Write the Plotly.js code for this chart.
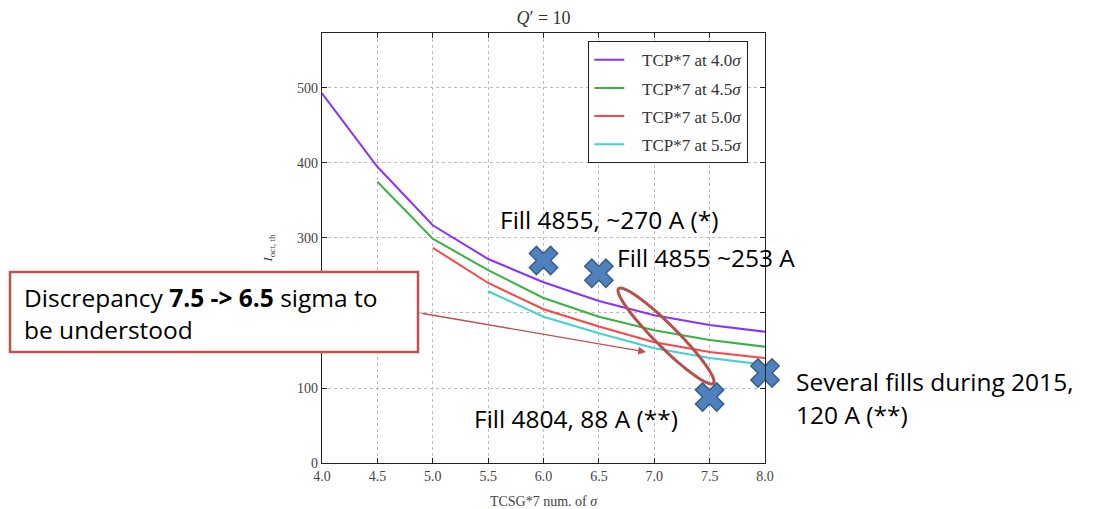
<!DOCTYPE html>
<html>
<head>
<meta charset="utf-8">
<script src="https://cdn.plot.ly/plotly-3.0.1.min.js"></script>
<style>
  html, body { margin: 0; padding: 0; background: #fff; }
  #chart { width: 1096px; height: 509px; }
</style>
</head>
<body>
<div id="chart"></div>
<script>
// TCSG*7 opening (num. of sigma) on the x axis
const tcsgSigma = [4.0, 4.5, 5.0, 5.5, 6.0, 6.5, 7.0, 7.5, 8.0];

// Octupole threshold current for each TCP*7 setting
const tcp40 = [493, 395, 317, 272, 241, 216, 197, 184, 175];
const tcp45 = [null, 375, 299, 257, 220, 195, 177, 164, 155];
const tcp50 = [null, null, 287, 240, 205, 182, 161, 148, 140];
const tcp55 = [null, null, null, 229, 195, 173, 153, 140, 131];

const seriesNames = ['TCP*7 at 4.0<i>σ</i>', 'TCP*7 at 4.5<i>σ</i>', 'TCP*7 at 5.0<i>σ</i>', 'TCP*7 at 5.5<i>σ</i>'];
const seriesColors = ['#8533ff', '#3cb043', '#ff4444', '#3fd3d3'];

// Measured fills
const fillSigma = [6.0, 6.5, 7.5, 8.0];
const fillCurrent = [270, 253, 88, 120];

const xTicks = [4.0, 4.5, 5.0, 5.5, 6.0, 6.5, 7.0, 7.5, 8.0];
const yTicks = [0, 100, 200, 300, 400, 500];

// Plot geometry (pixels)
const W = 1096, H = 509;
const M = { l: 322, r: 331, t: 33, b: 46 };
const plotW = W - M.l - M.r, plotH = H - M.t - M.b;
const xRange = [4, 8], yRange = [0, 573.3];
const pxX = px => (px - M.l) / plotW;           // pixel -> paper x
const pxY = py => (H - M.b - py) / plotH;       // pixel -> paper y
const unitsPerPxX = (xRange[1] - xRange[0]) / plotW;
const unitsPerPxY = (yRange[1] - yRange[0]) / plotH;

const serif = 'Liberation Serif, Times New Roman, serif';
const sans = 'Open Sans, Lato, sans-serif';

const curves = [tcp40, tcp45, tcp50, tcp55].map((ys, i) => ({
  type: 'scatter', mode: 'lines',
  x: tcsgSigma, y: ys, name: '&nbsp;&nbsp;&nbsp;' + seriesNames[i],
  legendgroup: 'g' + i,
  line: { color: seriesColors[i], width: 2 },
  connectgaps: false
}));

const fills = {
  type: 'scatter', mode: 'markers',
  x: fillSigma, y: fillCurrent, showlegend: false,
  cliponaxis: false, hoverinfo: 'x+y',
  marker: { symbol: 'x', size: 25, color: '#4f81bd', line: { color: '#385d8a', width: 1.5 } }
};

// Rotated ellipse around the 7.0-7.5 sigma region, built in pixel space then mapped to data
function ellipsePath(cxPx, cyPx, a, b, angDeg) {
  const t = angDeg * Math.PI / 180;
  let d = '';
  for (let k = 0; k <= 72; k++) {
    const u = 2 * Math.PI * k / 72;
    const ex = a * Math.cos(u), ey = b * Math.sin(u);
    const px = cxPx + ex * Math.cos(t) - ey * Math.sin(t);
    const py = cyPx + ex * Math.sin(t) + ey * Math.cos(t);
    const xd = xRange[0] + (px - M.l) * unitsPerPxX;
    const yd = (H - M.b - py) * unitsPerPxY;
    d += (k === 0 ? 'M' : 'L') + xd.toFixed(4) + ',' + yd.toFixed(3);
  }
  return d + 'Z';
}

const txt = (text, xPx, yPx, size) => ({
  xref: 'paper', yref: 'paper', x: pxX(xPx), y: pxY(yPx),
  xanchor: 'left', yanchor: 'middle', showarrow: false,
  text: text, font: { family: sans, size: size || 24.5, color: '#000' }
});

const layout = {
  width: W, height: H,
  margin: M,
  paper_bgcolor: '#fff', plot_bgcolor: '#fff',
  title: { text: '<i>Q</i>′&nbsp;=&nbsp;10', x: 0.5, xref: 'paper', y: 0.965, yanchor: 'middle',
           font: { family: serif, size: 18, color: '#333' } },
  xaxis: {
    range: xRange, tickvals: xTicks, tickformat: '.1f',
    showline: true, linecolor: '#222', linewidth: 1.3, mirror: 'ticks',
    ticks: 'inside', ticklen: 5, tickcolor: '#222',
    showgrid: true, gridcolor: '#bbbbbb', griddash: 'dot', gridwidth: 1,
    zeroline: false,
    tickfont: { family: serif, size: 14, color: '#444' },
    title: { text: 'TCSG*7 num. of <i>σ</i>', standoff: 18, font: { family: serif, size: 14, color: '#444' } }
  },
  yaxis: {
    range: yRange, tickvals: yTicks,
    showline: true, linecolor: '#222', linewidth: 1.3, mirror: 'ticks',
    ticks: 'inside', ticklen: 5, tickcolor: '#222',
    showgrid: true, gridcolor: '#bbbbbb', griddash: 'dot', gridwidth: 1,
    zeroline: false,
    tickfont: { family: serif, size: 14, color: '#444' },
    title: { text: '<i>I</i><sub>oct, th</sub>', standoff: 21, font: { family: serif, size: 13, color: '#444' } }
  },
  legend: {
    x: pxX(588), y: pxY(41), xanchor: 'left', yanchor: 'top',
    bgcolor: '#fff', bordercolor: '#222', borderwidth: 1.3,
    font: { family: serif, size: 17, color: '#333' },
    tracegroupgap: 3, itemwidth: 30
  },
  shapes: [
    { type: 'path', xref: 'x', yref: 'y', layer: 'above',
      path: ellipsePath(666, 336, 67, 11, 45),
      line: { color: '#b5504b', width: 3 } },
    { type: 'rect', xref: 'paper', yref: 'paper', layer: 'above',
      x0: pxX(10), x1: pxX(418), y0: pxY(352), y1: pxY(272),
      fillcolor: '#fff', line: { color: '#c0504d', width: 2.5 } }
  ],
  annotations: [
    { xref: 'paper', yref: 'paper', x: pxX(646), y: pxY(352), ax: 420 - 646, ay: 313 - 352,
      axref: 'pixel', ayref: 'pixel', text: '', showarrow: true,
      arrowhead: 2, arrowsize: 1.2, arrowwidth: 1.3, arrowcolor: '#c0504d', standoff: 0 },
    txt('Discrepancy <b>7.5 -&gt; 6.5</b> sigma to', 22, 297),
    txt('be understood', 22, 329),
    txt('Fill 4855, ~270 A (*)', 498, 219),
    txt('Fill 4855 ~253 A', 615, 257),
    txt('Fill 4804, 88 A (**)', 472, 418),
    txt('Several fills during 2015,', 794, 381),
    txt('120 A (**)', 794, 414)
  ]
};

Plotly.newPlot('chart', curves.concat([fills]), layout, { displayModeBar: false, staticPlot: true });
</script>
</body>
</html>
